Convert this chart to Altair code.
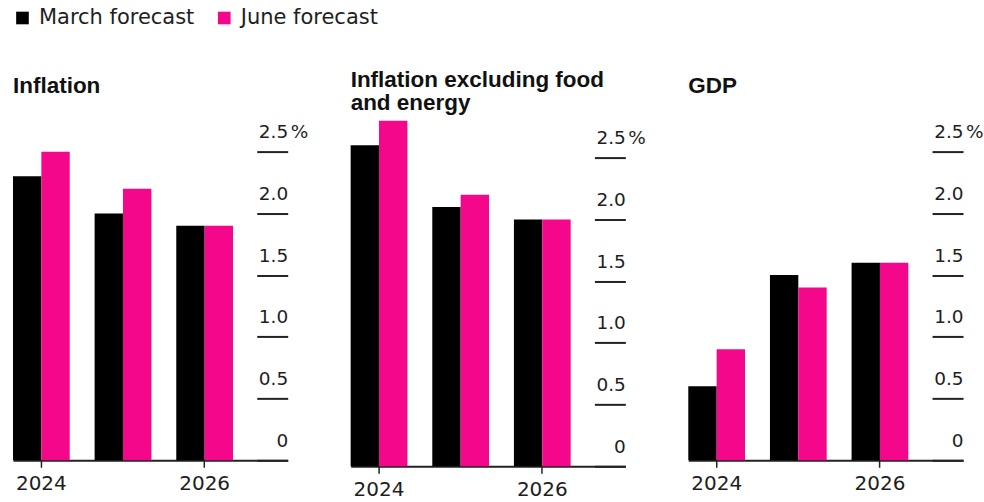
import altair as alt
import pandas as pd

years = ["2024", "2025", "2026"]
series = ["March forecast", "June forecast"]
colors = ["#000000", "#F5078B"]

title_inflation = ["Inflation"]
title_core = ["Inflation excluding food", "and energy"]
title_gdp = ["GDP"]

inflation_march = [2.3, 2.0, 1.9]
inflation_june = [2.5, 2.2, 1.9]
core_march = [2.6, 2.1, 2.0]
core_june = [2.8, 2.2, 2.0]
gdp_march = [0.6, 1.5, 1.6]
gdp_june = [0.9, 1.4, 1.6]

y_ticks = [0, 0.5, 1.0, 1.5, 2.0, 2.5]
x_tick_labels = ["2024", "2026"]
pct_value = [2.5]
pct_label = ["%"]

TEXT = "#1e1e1e"
W = 275


def make_df(march, june):
    rows = []
    for yr, m, j in zip(years, march, june):
        rows.append({"year": yr, "series": series[0], "value": m})
        rows.append({"year": yr, "series": series[1], "value": j})
    return pd.DataFrame(rows)


def y_axis():
    return alt.Axis(
        orient="right", offset=-31, tickSize=31, tickWidth=2, tickColor="#222",
        domain=False, grid=False, values=y_ticks, title=None,
        labelExpr="datum.value == 0 ? '0' : format(datum.value, '.1f')",
        labelAlign="right", labelBaseline="alphabetic", labelPadding=0,
        labelOffset=-14, labelFont="DejaVu Sans", labelFontSize=18.5,
        labelColor=TEXT, labelOverlap=False,
    )


def panel(df, title, height, ymax, offset, dy):
    yscale = alt.Scale(domain=[0, ymax], nice=False, zero=True)
    bars = alt.Chart(df).mark_bar(strokeWidth=0).encode(
        x=alt.X(
            "year:N",
            scale=alt.Scale(domain=years, paddingInner=0.305, paddingOuter=0.335, align=0),
            axis=alt.Axis(
                values=x_tick_labels, title=None, labelAngle=0,
                labelFont="DejaVu Sans", labelFontSize=20, labelColor=TEXT,
                labelPadding=6, tickSize=7, tickWidth=1.5, tickColor="#222",
                domainColor="#222", domainWidth=2, grid=False,
            ),
        ),
        xOffset=alt.XOffset("series:N", scale=alt.Scale(domain=series, paddingInner=0, paddingOuter=0)),
        y=alt.Y("value:Q", scale=yscale, axis=y_axis()),
        color=alt.Color("series:N", scale=alt.Scale(domain=series, range=colors),
                        legend=alt.Legend(title=None)),
    )
    pct = alt.Chart(pd.DataFrame({"value": pct_value, "label": pct_label})).mark_text(
        align="left", baseline="alphabetic", dx=3, dy=-14,
        font="DejaVu Sans", fontSize=18.5, color=TEXT,
    ).encode(
        x=alt.value(W),
        y=alt.Y("value:Q", scale=yscale, axis=y_axis()),
        text="label:N",
    )
    return alt.layer(bars, pct).properties(
        width=W, height=height,
        title=alt.TitleParams(
            title, anchor="start", frame="group", offset=offset, dy=dy,
            baseline="alphabetic", font="Liberation Sans", fontSize=22.5,
            fontWeight="bold", color="#111", lineHeight=23,
        ),
    )


p1 = panel(make_df(inflation_march, inflation_june), title_inflation, 346, 2.8, 21.5, 22)
p2 = panel(make_df(core_march, core_june), title_core, 352, 2.849, 29, 47)
p3 = panel(make_df(gdp_march, gdp_june), title_gdp, 346, 2.8, 21, 22)

chart = alt.hconcat(p1, p2, p3, spacing=63, bounds="flush").configure_view(
    stroke=None
).configure_legend(
    orient="none", legendX=-1, legendY=-107.5, direction="horizontal",
    symbolType="square", symbolSize=160, symbolStrokeWidth=0,
    labelFont="DejaVu Sans", labelFontSize=21, labelColor=TEXT,
    labelOffset=6, columnPadding=19, padding=0,
).properties(
    padding={"left": 12, "top": 6.5, "right": 0, "bottom": 0}
)

chart.save("out.html", embed_options={"renderer": "svg", "actions": False})
